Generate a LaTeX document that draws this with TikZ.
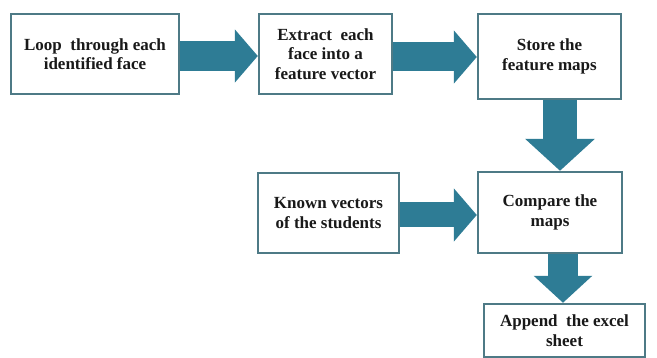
\documentclass[tikz,border=0pt]{standalone}
\usepackage{fontspec}
\setmainfont{Liberation Serif}
\usetikzlibrary{arrows.meta,calc,backgrounds}
\definecolor{boxline}{RGB}{78,122,134}
\definecolor{arrowfill}{RGB}{46,124,149}
\definecolor{txt}{RGB}{25,25,25}
\tikzset{
  stepbox/.style={draw=boxline, line width=2.4pt, fill=white, rectangle,
    inner sep=0pt, align=center, text=txt,
    font=\fontsize{17}{19.5}\selectfont\bfseries},
  bigarrow/.style={draw=arrowfill, line width=#1, -{Triangle[length=23pt,width=52pt]}},
  bigarrowv/.style={draw=arrowfill, line width=#1, -{Triangle[length=32pt,width=68pt]}},
  bigarrowv2/.style={draw=arrowfill, line width=#1, -{Triangle[length=27pt,width=57pt]}},
}
\begin{document}
\begin{tikzpicture}[x=1pt,y=-1pt]
\useasboundingbox (0,0) rectangle (657,358);
\node[stepbox, minimum width=168pt, minimum height=80pt] (b1) at (95,54)
  {Loop\ \ through each\\identified face};
\node[stepbox, minimum width=133pt, minimum height=80pt] (b2) at (325.5,54)
  {Extract\ \ each\\face into a\\feature vector};
\node[stepbox, minimum width=143pt, minimum height=85pt] (b3) at (549.5,56.5)
  {Store the\\feature maps};
\node[stepbox, minimum width=141pt, minimum height=80pt] (b4) at (328.5,213)
  {Known vectors\\of the students};
\node[stepbox, minimum width=144pt, minimum height=81pt] (b5) at (550,212.5)
  {Compare the\\maps};
\node[stepbox, minimum width=161pt, minimum height=53pt] (b6) at (564.5,330.5)
  {Append\ \ the excel\\sheet};
\coordinate (s1) at ($(b1.east)+(0,2)$);
\coordinate (s2) at ($(b2.east)+(0,3)$);
\coordinate (s3) at ($(b3.south)+(10.5,0)$);
\coordinate (s4) at ($(b4.east)+(0,2)$);
\coordinate (s5) at ($(b5.south)+(13,0)$);
\begin{scope}[on background layer]
\fill[white] (0,0) rectangle (657,358);
\draw[bigarrow=30pt] (s1) -- (s1 -| b2.west);
\draw[bigarrow=29pt] (s2) -- (s2 -| b3.west);
\draw[bigarrowv=34pt] (s3) -- (s3 |- b5.north);
\draw[bigarrow=25pt] (s4) -- (s4 -| b5.west);
\draw[bigarrowv2=30pt] (s5) -- (s5 |- b6.north);
\end{scope}
\end{tikzpicture}
\end{document}
